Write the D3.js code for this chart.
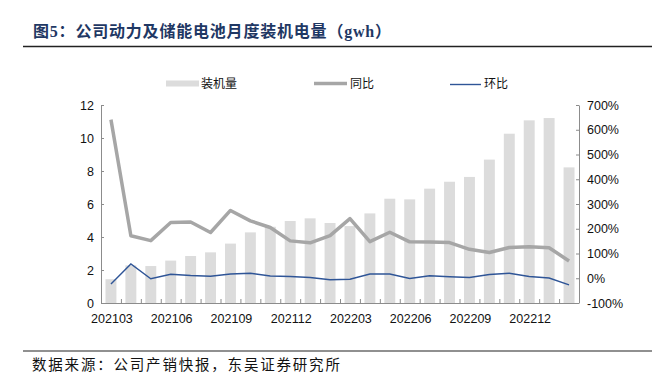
<!DOCTYPE html>
<html>
<head>
<meta charset="utf-8">
<script src="https://cdn.jsdelivr.net/npm/d3@7"></script>
<style>
  body { margin: 0; background: #fff; }
  svg { display: block; }
</style>
</head>
<body>
<div id="chart"></div>
<script>
// months 202103 - 202302
const months = ["202103","202104","202105","202106","202107","202108","202109","202110","202111","202112",
    "202201","202202","202203","202204","202205","202206","202207","202208","202209","202210","202211","202212",
    "202301","202302"];
const tickLabels = ["202103","202106","202109","202112","202203","202206","202209","202212"];

// 装机量 (gwh)
const volume = [1.44, 2.28, 2.24, 2.57, 2.85, 3.07, 3.6, 4.28, 4.62, 4.97, 5.13, 4.85,
    4.66, 5.43, 6.32, 6.28, 6.93, 7.35, 7.64, 8.69, 10.26, 11.07, 11.21, 8.22];
// 同比 (%)
const yoy = [641, 172, 152, 225, 227, 185, 274, 232, 205, 151, 143, 172,
    241, 148, 186, 147, 146, 144, 117, 104, 124, 127, 123, 70];
// 环比 (%)
const mom = [-23, 58, -2, 16, 11, 8, 17, 20, 9, 7, 3, -6,
    -4, 17, 17, -1, 10, 6, 3, 15, 20, 7, 1, -27];

const leftTicks = [0, 2, 4, 6, 8, 10, 12];
const rightTicks = [-100, 0, 100, 200, 300, 400, 500, 600, 700];

const W = 652, H = 389;
const plot = { left: 101, right: 579, top: 105, bottom: 303 };

const svg = d3.select("#chart").append("svg")
    .attr("width", W)
    .attr("height", H);

// title + rules
svg.append("text")
    .attr("x", 33).attr("y", 37)
    .attr("font-family", "'Liberation Serif', 'Noto Sans CJK SC', serif")
    .attr("font-weight", "bold")
    .attr("font-size", 16)
    .attr("letter-spacing", 0.8)
    .attr("fill", "#1f3864")
    .text("图5：公司动力及储能电池月度装机电量（gwh）");

svg.append("line")
    .attr("x1", 23).attr("x2", W).attr("y1", 46.5).attr("y2", 46.5)
    .attr("stroke", "#222").attr("stroke-width", 1.6);

svg.append("line")
    .attr("x1", 23).attr("x2", W).attr("y1", 351).attr("y2", 351)
    .attr("stroke", "#222").attr("stroke-width", 1.2);

svg.append("text")
    .attr("x", 32).attr("y", 370)
    .attr("font-family", "'Noto Sans CJK SC', sans-serif")
    .attr("font-size", 14.5)
    .attr("letter-spacing", 1.8)
    .attr("fill", "#111")
    .text("数据来源：公司产销快报，东吴证券研究所");

// scales
const x = d3.scaleBand()
    .domain(months)
    .range([plot.left, plot.right])
    .paddingInner(0.45)
    .paddingOuter(0.225);

const yL = d3.scaleLinear().domain([0, 12]).range([plot.bottom, plot.top]);
const yR = d3.scaleLinear().domain([-100, 700]).range([plot.bottom, plot.top]);

const axisColor = "#8c8c8c";
const tickFont = "'Liberation Sans', Arial, sans-serif";

// bars
svg.append("g").selectAll("rect")
    .data(volume)
    .enter().append("rect")
    .attr("x", (d, i) => x(months[i]))
    .attr("width", x.bandwidth())
    .attr("y", d => yL(d))
    .attr("height", d => yL(0) - yL(d))
    .attr("fill", "#dcdcdc");

// left axis
const gL = svg.append("g")
    .attr("transform", `translate(${plot.left},0)`)
    .call(d3.axisLeft(yL).tickValues(leftTicks).tickSizeInner(-3).tickSizeOuter(0).tickPadding(7));

// right axis
const gR = svg.append("g")
    .attr("transform", `translate(${plot.right},0)`)
    .call(d3.axisRight(yR).tickValues(rightTicks).tickSizeInner(-3).tickSizeOuter(0).tickPadding(8)
        .tickFormat(d => d + "%"));

// bottom axis: ticks at band boundaries, labels every 3 months
const step = x.step();
const gB = svg.append("g");
gB.append("line")
    .attr("x1", plot.left).attr("x2", plot.right)
    .attr("y1", plot.bottom + 0.5).attr("y2", plot.bottom + 0.5)
    .attr("stroke", axisColor);
gB.selectAll("line.tick")
    .data(d3.range(months.length + 1))
    .enter().append("line")
    .attr("class", "tick")
    .attr("x1", i => plot.left + i * step + 0.5)
    .attr("x2", i => plot.left + i * step + 0.5)
    .attr("y1", plot.bottom)
    .attr("y2", plot.bottom - 4)
    .attr("stroke", axisColor);
gB.selectAll("text")
    .data(tickLabels)
    .enter().append("text")
    .attr("x", d => x(d) + x.bandwidth() / 2 + 1)
    .attr("y", 323)
    .attr("text-anchor", "middle")
    .attr("font-family", tickFont)
    .attr("font-size", 12.5)
    .attr("fill", "#111")
    .text(d => d);

[gL, gR].forEach(g => {
    g.select(".domain").attr("stroke", axisColor);
    g.selectAll(".tick line").attr("stroke", axisColor);
    g.selectAll(".tick text")
        .attr("font-family", tickFont)
        .attr("font-size", 12.5)
        .attr("fill", "#111");
});

// lines
const cx = (d, i) => x(months[i]) + x.bandwidth() / 2;

svg.append("path")
    .datum(yoy)
    .attr("fill", "none")
    .attr("stroke", "#a6a6a6")
    .attr("stroke-width", 3.5)
    .attr("stroke-linejoin", "round")
    .attr("d", d3.line().x(cx).y(d => yR(d)));

svg.append("path")
    .datum(mom)
    .attr("fill", "none")
    .attr("stroke", "#2f5597")
    .attr("stroke-width", 1.4)
    .attr("d", d3.line().x(cx).y(d => yR(d)));

// legend
const leg = svg.append("g")
    .attr("font-family", "'Noto Sans CJK SC', sans-serif")
    .attr("font-size", 12)
    .attr("fill", "#111");

leg.append("rect")
    .attr("x", 166).attr("y", 80.5).attr("width", 33).attr("height", 6)
    .attr("fill", "#dcdcdc");
leg.append("text").attr("x", 201).attr("y", 88).text("装机量");

leg.append("line")
    .attr("x1", 314).attr("x2", 347).attr("y1", 83.5).attr("y2", 83.5)
    .attr("stroke", "#a6a6a6").attr("stroke-width", 3.5);
leg.append("text").attr("x", 350).attr("y", 88).text("同比");

leg.append("line")
    .attr("x1", 450).attr("x2", 481).attr("y1", 84.5).attr("y2", 84.5)
    .attr("stroke", "#2f5597").attr("stroke-width", 1.4);
leg.append("text").attr("x", 484).attr("y", 88).text("环比");
</script>
</body>
</html>
